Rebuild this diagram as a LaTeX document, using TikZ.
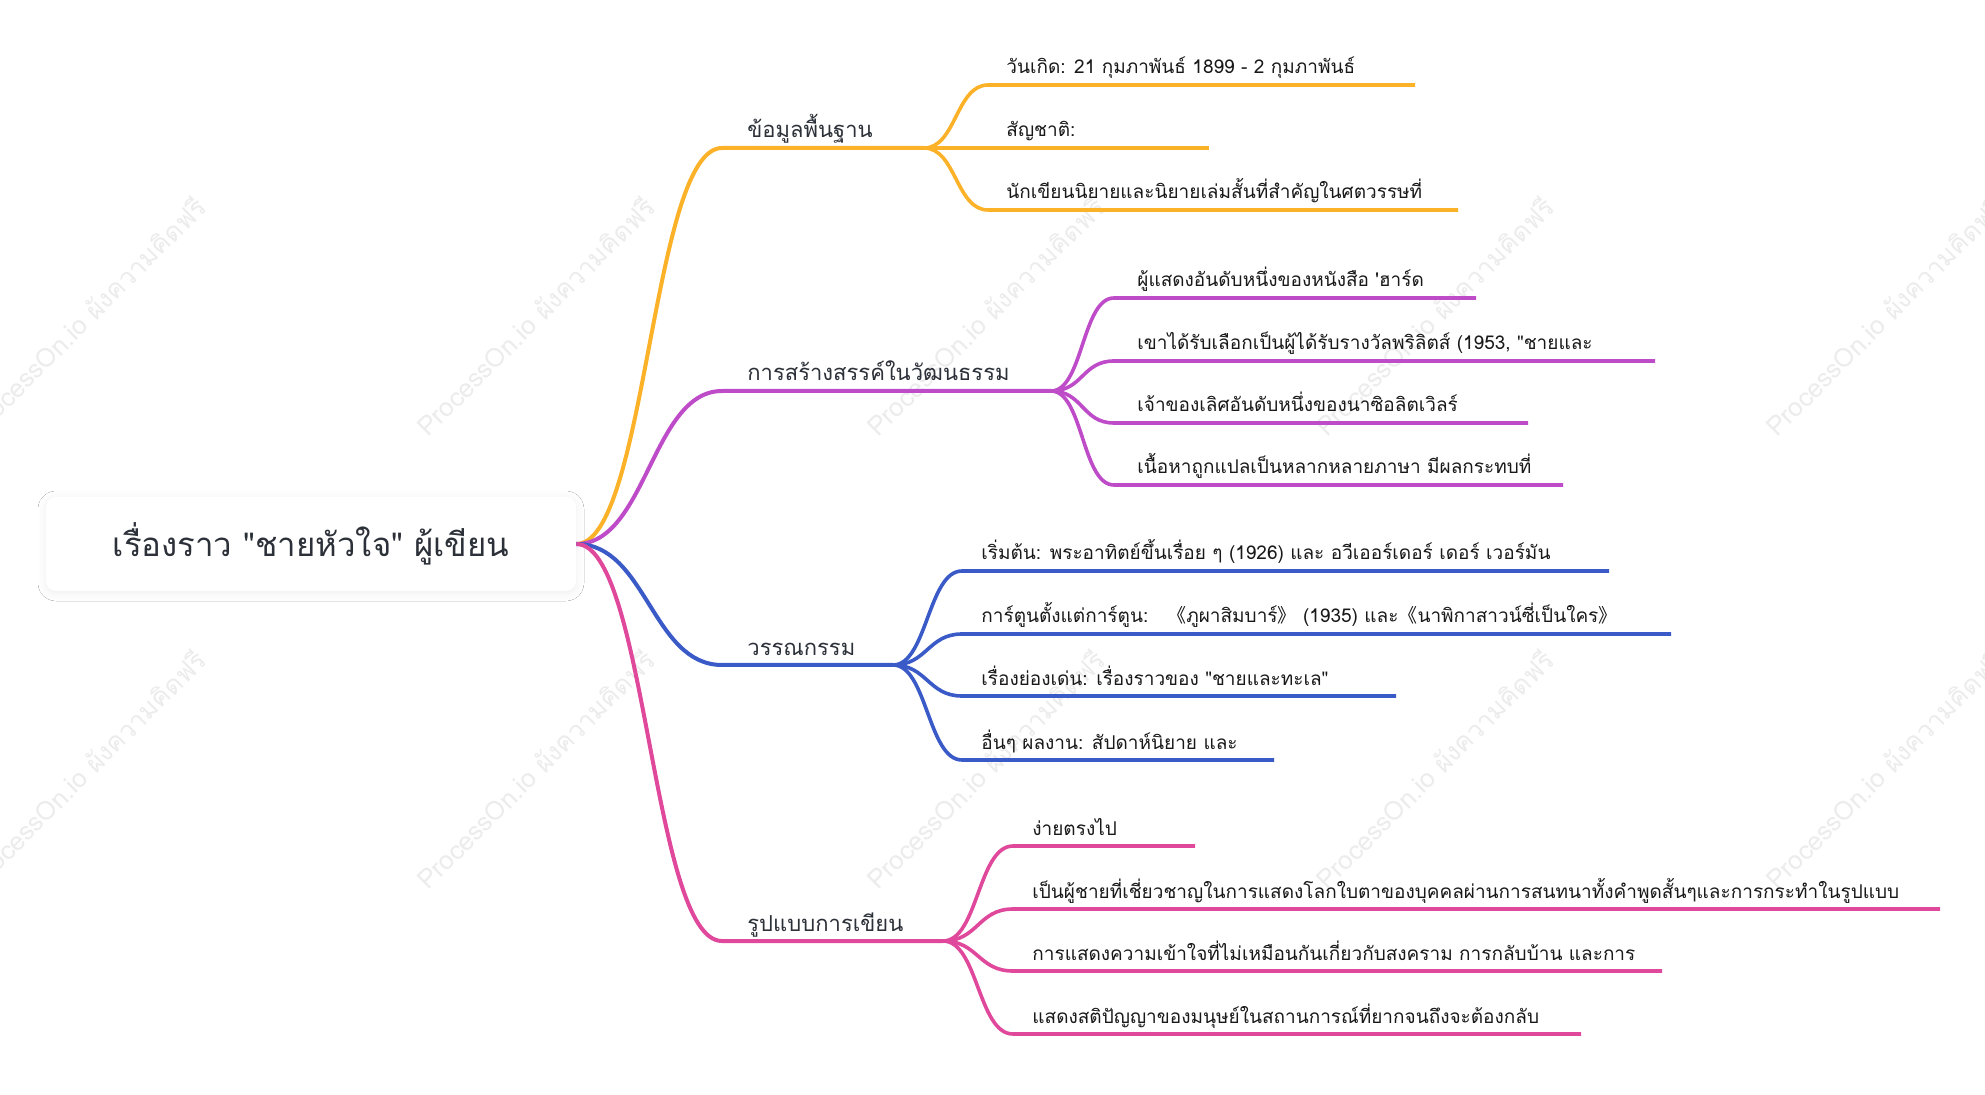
\documentclass[tikz,border=0pt]{standalone}
\usepackage{fontspec}
\setmainfont[Script=Thai, Ligatures=TeXOff]{Loma}
\newfontfamily\cjkfont{Noto Sans CJK SC}
\usepackage{tikz}
\usetikzlibrary{positioning, shadows.blur}
\definecolor{mmorange}{RGB}{252,178,40}
\definecolor{mmpurple}{RGB}{190,76,200}
\definecolor{mmblue}{RGB}{58,90,200}
\definecolor{mmpink}{RGB}{224,72,156}
\definecolor{inkgray}{RGB}{44,48,56}
\definecolor{wmgray}{RGB}{236,236,236}
\newcommand{\bkl}{{\cjkfont 《}}
\newcommand{\bkr}{{\cjkfont 》}}
\tikzset{
    rootbox/.style={rectangle, rounded corners=5pt, fill=white, minimum width=265pt,
                    minimum height=47pt, text=inkgray, font=\fontsize{16.5}{19}\selectfont,
                    blur shadow={shadow blur steps=8, shadow xshift=0pt, shadow yshift=-1pt,
                                 shadow blur radius=4pt, shadow opacity=7}},
    topiclbl/.style={anchor=base west, inner sep=0pt, text=inkgray, font=\fontsize{11}{13}\selectfont},
    leaflbl/.style={anchor=base west, inner sep=0pt, text=black!90, font=\fontsize{9.5}{11}\selectfont},
    branch/.style={line width=2pt},
    twig/.style={line width=1.8pt},
    wmark/.style={rotate=45, text=wmgray, font=\fontsize{13}{15}\selectfont},
}

\begin{document}
\begin{tikzpicture}[x=0.5pt, y=-0.5pt]
    \useasboundingbox[fill=white] (0,0) rectangle (1985,1095);
    % watermark
    \foreach \wx/\wy [count=\i] in {86/316, 535/316, 985/316, 1434/316, 1884/316,
                                    86/769, 535/769, 985/769, 1434/769, 1884/769} {
        \node[wmark] (wm\i) at (\wx,\wy) {ProcessOn.io ผังความคิดฟรี};
    }
    \node[rootbox] (root) at (311,544) {เรื่องราว "ชายหัวใจ" ผู้เขียน};
    % main topics
    \foreach \n/\col/\y/\xe/\txt in {1/mmorange/148/924/ข้อมูลพื้นฐาน,
                                     2/mmpurple/391/1051/การสร้างสรรค์ในวัฒนธรรม,
                                     3/mmblue/665/893/วรรณกรรม,
                                     4/mmpink/941/943/รูปแบบการเขียน} {
        \coordinate (ts\n) at (722,\y);
        \coordinate (te\n) at (\xe,\y);
        \draw[branch, \col] (root.east) .. controls +(70,0) and +(-70,0) .. (ts\n) -- (te\n);
        \node[topiclbl] (t\n) at (747,\y-10) {\txt};
    }
    % basic info
    \foreach \n/\y/\xe/\txt in {1/85/1415/{วันเกิด: 21 กุมภาพันธ์ 1899 - 2 กุมภาพันธ์},
                                2/148/1209/{สัญชาติ:},
                                3/210/1458/{นักเขียนนิยายและนิยายเล่มสั้นที่สำคัญในศตวรรษที่}} {
        \coordinate (os\n) at (988,\y);
        \coordinate (oe\n) at (\xe,\y);
        \draw[twig, mmorange] (te1) .. controls +(32,0) and +(-32,0) .. (os\n) -- (oe\n);
        \node[leaflbl] (o\n) at (1006,\y-11) {\txt};
    }
    % culture
    \foreach \n/\y/\xe/\txt in {1/298/1476/{ผู้แสดงอันดับหนึ่งของหนังสือ \textquotesingle ฮาร์ด},
                                2/361/1655/{เขาได้รับเลือกเป็นผู้ได้รับรางวัลพริลิตส์ (1953, "ชายและ},
                                3/423/1528/{เจ้าของเลิศอันดับหนึ่งของนาซิอลิตเวิลร์},
                                4/485/1563/{เนื้อหาถูกแปลเป็นหลากหลายภาษา มีผลกระทบที่}} {
        \coordinate (ps\n) at (1114,\y);
        \coordinate (pe\n) at (\xe,\y);
        \draw[twig, mmpurple] (te2) .. controls +(32,0) and +(-32,0) .. (ps\n) -- (pe\n);
        \node[leaflbl] (p\n) at (1137,\y-11) {\txt};
    }
    % literature
    \foreach \n/\y/\xe/\txt in {1/571/1609/{เริ่มต้น: พระอาทิตย์ขึ้นเรื่อย ๆ (1926) และ อวีเออร์เดอร์ เดอร์ เวอร์มัน},
                                2/634/1671/{การ์ตูนตั้งแต่การ์ตูน:\quad\bkl ภูผาสิมบาร์\bkr\ (1935) และ\bkl นาพิกาสาวน์ซี่เป็นใคร\bkr},
                                3/696/1396/{เรื่องย่องเด่น: เรื่องราวของ "ชายและทะเล"},
                                4/760/1274/{อื่นๆ ผลงาน: สัปดาห์นิยาย และ}} {
        \coordinate (ls\n) at (962,\y);
        \coordinate (le\n) at (\xe,\y);
        \draw[twig, mmblue] (te3) .. controls +(34,0) and +(-34,0) .. (ls\n) -- (le\n);
        \node[leaflbl] (l\n) at (981,\y-11) {\txt};
    }
    % writing style
    \foreach \n/\y/\xe/\txt in {1/846/1195/{ง่ายตรงไป},
                                2/909/1940/{เป็นผู้ชายที่เชี่ยวชาญในการแสดงโลกใบตาของบุคคลผ่านการสนทนาทั้งคำพูดสั้นๆและการกระทำในรูปแบบ},
                                3/971/1662/{การแสดงความเข้าใจที่ไม่เหมือนกันเกี่ยวกับสงคราม การกลับบ้าน และการ},
                                4/1034/1581/{แสดงสติปัญญาของมนุษย์ในสถานการณ์ที่ยากจนถึงจะต้องกลับ}} {
        \coordinate (ws\n) at (1013,\y);
        \coordinate (we\n) at (\xe,\y);
        \draw[twig, mmpink] (te4) .. controls +(35,0) and +(-35,0) .. (ws\n) -- (we\n);
        \node[leaflbl] (w\n) at (1032,\y-11) {\txt};
    }
\end{tikzpicture}
\end{document}
